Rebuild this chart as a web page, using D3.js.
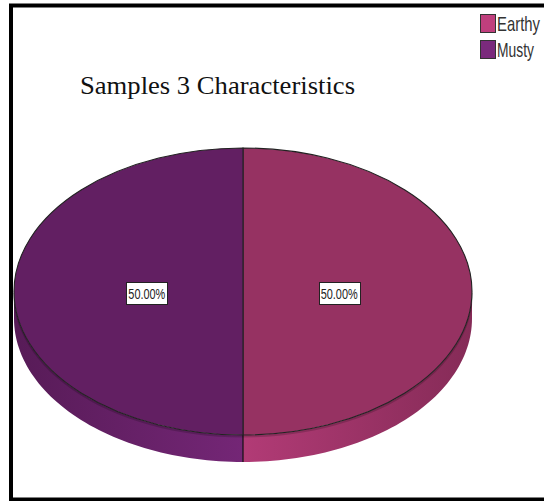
<!DOCTYPE html>
<html>
<head>
<meta charset="utf-8">
<script src="https://cdn.jsdelivr.net/npm/d3@7"></script>
<style>
  html, body { margin: 0; padding: 0; background: #fff; }
  svg { display: block; }
</style>
</head>
<body>
<svg id="chart" width="544" height="501"></svg>
<script>
// data
const categories = ["Earthy", "Musty"];
const values = [50, 50];
const labels = ["50.00%", "50.00%"];
const title = "Samples 3 Characteristics";

const topColors = ["#963262", "#621f62"];
const sideLight = ["#b23b76", "#742676"];
const sideDark = ["#852b57", "#571b57"];
const legendColors = ["#c03f7d", "#7a2a7c"];
const legendWidths = [43, 37];

const svg = d3.select("#chart");

// frame
svg.append("rect")
    .attr("x", 11).attr("y", 5.5)
    .attr("width", 620).attr("height", 494)
    .attr("fill", "none")
    .attr("stroke", "#000")
    .attr("stroke-width", 4);

// title
svg.append("text")
    .attr("x", 80).attr("y", 94)
    .attr("font-family", "'Liberation Serif', 'Times New Roman', serif")
    .attr("font-size", 25)
    .attr("textLength", 275)
    .attr("lengthAdjust", "spacingAndGlyphs")
    .attr("fill", "#111")
    .text(title);

// pie geometry
const cx = 243, cy = 291.5, rx = 229, ry = 143.5, depth = 27;

const pie = d3.pie().sort(null).value(d => d.value);
const data = categories.map((c, i) => ({ name: c, value: values[i], label: labels[i] }));
const arcs = pie(data);

// d3 angle: 0 at top, clockwise
const pt = (a, dy = 0) => [cx + rx * Math.sin(a), cy - ry * Math.cos(a) + dy];

const defs = svg.append("defs");

// side walls (only front half)
const sideG = svg.append("g");
arcs.forEach((d, i) => {
    const a0 = Math.max(d.startAngle, Math.PI / 2);
    const a1 = Math.min(d.endAngle, 3 * Math.PI / 2);
    if (a1 <= a0) return;
    const gid = "side" + i;
    const g = defs.append("linearGradient").attr("id", gid)
        .attr("gradientUnits", "userSpaceOnUse")
        .attr("x1", pt(a0)[0]).attr("y1", 0)
        .attr("x2", pt(a1)[0]).attr("y2", 0);
    // lighter near the front seam, darker toward the outer edge
    g.append("stop").attr("offset", "0%").attr("stop-color", i === 0 ? sideDark[i] : sideLight[i]);
    g.append("stop").attr("offset", "100%").attr("stop-color", i === 0 ? sideLight[i] : sideDark[i]);
    const angles = d3.range(0, 61).map(k => a0 + (a1 - a0) * k / 60);
    const topEdge = angles.map(a => pt(a));
    const botEdge = angles.slice().reverse().map(a => pt(a, depth));
    sideG.append("path")
        .attr("d", d3.line()(topEdge.concat(botEdge)) + "Z")
        .attr("fill", "url(#" + gid + ")");
});
sideG.append("line")
    .attr("x1", cx).attr("y1", cy + ry)
    .attr("x2", cx).attr("y2", cy + ry + depth)
    .attr("stroke", "#111").attr("stroke-width", 1.2);

sideG.append("path")
    .attr("d", d3.line()(d3.range(0, 61).map(k => pt(Math.PI / 2 + Math.PI * k / 60, 1.5))))
    .attr("fill", "none")
    .attr("stroke", "rgba(0,0,0,0.18)")
    .attr("stroke-width", 2);

// top face: circular arc squashed vertically
const arc = d3.arc().innerRadius(0).outerRadius(rx);
const topG = svg.append("g")
    .attr("transform", `translate(${cx},${cy}) scale(1,${ry / rx})`);
topG.selectAll("path")
    .data(arcs)
    .join("path")
    .attr("d", arc)
    .attr("fill", (d, i) => topColors[i])
    .attr("stroke", "#222")
    .attr("stroke-width", 1.1)
    .attr("vector-effect", "non-scaling-stroke");

// labels
const labelR = 0.42;
const labelG = svg.append("g");
arcs.forEach((d, i) => {
    const mid = (d.startAngle + d.endAngle) / 2;
    const x = cx + rx * labelR * Math.sin(mid);
    const y = cy - ry * labelR * Math.cos(mid) + 1.5;
    labelG.append("rect")
        .attr("x", Math.round(x - 20.5) + 0.5).attr("y", Math.round(y - 11) + 0.5)
        .attr("width", 41).attr("height", 22)
        .attr("fill", "#fff")
        .attr("stroke", "#222").attr("stroke-width", 1);
    labelG.append("text")
        .attr("x", x).attr("y", y + 5.5)
        .attr("text-anchor", "middle")
        .attr("font-family", "'Liberation Sans', Arial, sans-serif")
        .attr("font-size", 15)
        .attr("textLength", 37)
        .attr("lengthAdjust", "spacingAndGlyphs")
        .attr("fill", "#222")
        .text(d.data.label);
});

// legend (text squeezed horizontally to mimic a narrow font)
const legend = svg.append("g");
categories.forEach((c, i) => {
    const y = 14 + i * 26;
    legend.append("rect")
        .attr("x", 480.5).attr("y", y + 0.5)
        .attr("width", 15).attr("height", 18)
        .attr("fill", legendColors[i])
        .attr("stroke", "#333").attr("stroke-width", 1);
    const tg = legend.append("g");
    const t = tg.append("text")
        .attr("x", 0).attr("y", 0)
        .attr("font-family", "'Liberation Sans', Arial, sans-serif")
        .attr("font-size", 20)
        .attr("fill", "#333")
        .text(c);
    const natural = t.node().getComputedTextLength();
    tg.attr("transform", `translate(497,${y + 17}) scale(${legendWidths[i] / natural},1)`);
});
</script>
</body>
</html>
